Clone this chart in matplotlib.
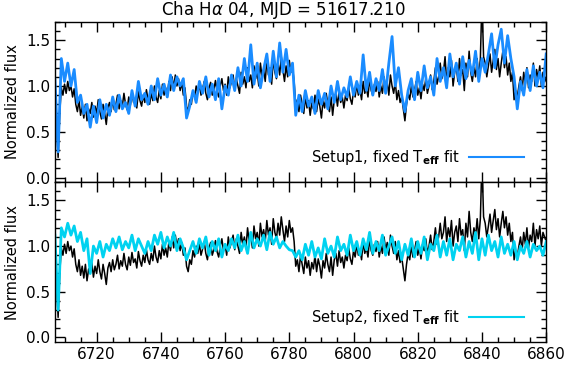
import numpy as np
import matplotlib
matplotlib.use("Agg")
import matplotlib.pyplot as plt
from matplotlib.ticker import MultipleLocator

plt.rcParams['font.family'] = ['DejaVu Sans']

# observed spectrum, 0.5 A sampling from 6707.0 to 6860.0
wave_obs = np.arange(6707.0, 6860.01, 0.5)
flux_obs = [
    1.00, 0.62, 0.22, 0.70, 0.98, 0.90, 1.02, 0.92, 1.05, 0.95,
    1.00, 0.88, 0.97, 0.80, 0.72, 0.85, 0.68, 0.78, 0.65, 0.80,
    0.62, 0.75, 0.70, 0.82, 0.66, 0.78, 0.70, 0.85, 0.72, 0.64,
    0.80, 0.70, 0.58, 0.76, 0.82, 0.72, 0.85, 0.74, 0.80, 0.90,
    0.75, 0.84, 0.78, 0.92, 0.80, 0.74, 0.88, 0.79, 0.93, 0.82,
    0.86, 0.76, 0.94, 0.84, 0.78, 0.90, 0.82, 0.96, 0.85, 0.80,
    0.92, 0.84, 1.00, 0.88, 0.82, 0.95, 0.86, 1.02, 0.90, 0.98,
    0.88, 1.05, 0.95, 1.10, 0.98, 1.12, 1.00, 1.08, 0.95, 1.04,
    0.90, 0.98, 0.78, 0.72, 0.85, 0.80, 0.95, 0.88, 1.00, 0.92,
    1.02, 0.90, 0.97, 1.05, 0.92, 0.85, 0.98, 1.04, 0.90, 0.96,
    1.06, 0.94, 0.88, 1.00, 1.08, 0.95, 1.02, 0.90, 1.10, 0.98,
    1.05, 1.12, 0.96, 1.08, 1.00, 0.92, 1.15, 1.02, 1.10, 0.98,
    1.20, 1.05, 1.12, 0.98, 1.22, 1.08, 1.15, 1.00, 1.25, 1.10,
    1.18, 1.05, 1.28, 1.12, 1.20, 1.02, 1.30, 1.15, 1.08, 1.25,
    1.12, 1.32, 1.18, 1.05, 1.22, 1.10, 1.28, 1.15, 1.20, 1.05,
    0.78, 0.85, 0.72, 0.90, 0.80, 0.70, 0.88, 0.76, 0.84, 0.68,
    0.82, 0.75, 0.90, 0.72, 0.86, 0.78, 0.65, 0.84, 0.76, 0.92,
    0.80, 0.72, 0.88, 0.68, 0.85, 0.92, 0.78, 0.95, 0.82, 0.88,
    0.76, 0.90, 0.84, 0.98, 0.86, 0.80, 0.95, 0.88, 1.02, 0.90,
    0.96, 0.85, 1.05, 0.92, 0.98, 0.88, 1.08, 0.95, 0.90, 1.02,
    0.94, 1.05, 0.88, 1.00, 0.92, 1.10, 0.96, 1.04, 0.90, 1.12,
    1.00, 0.92, 1.05, 0.85, 0.95, 0.82, 0.88, 0.75, 0.62, 0.80,
    0.92, 0.85, 1.00, 0.88, 0.95, 1.05, 0.90, 0.98, 0.86, 1.02,
    0.95, 1.08, 0.92, 1.00, 1.12, 0.96, 1.05, 1.20, 1.02, 1.10,
    1.25, 1.08, 1.15, 1.32, 1.05, 1.20, 1.10, 1.28, 1.00, 1.15,
    1.22, 1.05, 1.30, 1.12, 1.18, 0.95, 1.25, 1.10, 1.38, 1.15,
    1.05, 1.20, 1.10, 1.30, 1.08, 1.30, 1.95, 1.32, 1.25, 1.10,
    1.22, 1.35, 1.15, 1.28, 1.40, 1.18, 1.30, 1.10, 1.25, 1.38,
    1.20, 1.32, 1.12, 1.25, 1.05, 1.15, 0.85, 0.95, 0.88, 1.00,
    1.10, 0.95, 1.15, 1.02, 1.20, 0.98, 1.12, 1.05, 1.25, 1.00,
    1.18, 1.08, 1.22, 1.00, 1.15, 1.10, 1.05,
]

# model fits, 1 A sampling from 6707 to 6860
wave_fit = np.arange(6707, 6861, 1)
fit_setup1 = [
    1.08, 0.28, 1.30, 1.05, 1.25, 1.00, 1.18, 0.82, 0.90, 0.70,
    0.80, 0.55, 0.78, 0.60, 0.85, 0.65, 0.80, 0.68, 0.88, 0.72,
    0.90, 0.75, 0.82, 0.70, 0.95, 0.78, 1.05, 0.85, 0.92, 0.80,
    1.00, 0.85, 1.08, 0.90, 1.02, 0.88, 1.12, 0.95, 1.10, 1.00,
    1.08, 0.65, 0.78, 0.95, 0.82, 1.05, 0.92, 1.10, 0.88, 1.02,
    0.85, 1.08, 0.75, 1.00, 0.90, 1.12, 0.95, 1.20, 1.00, 1.30,
    1.05, 1.45, 1.02, 1.25, 0.98, 1.18, 1.35, 1.05, 1.38, 1.10,
    1.47, 1.15, 1.40, 1.12, 1.25, 0.68, 0.90, 0.72, 0.95, 0.78,
    0.88, 0.70, 0.95, 0.80, 0.92, 0.75, 1.00, 0.82, 1.05, 0.85,
    0.98, 0.88, 1.10, 0.90, 1.05, 0.92, 1.34, 0.95, 1.15, 0.90,
    1.08, 0.95, 1.18, 0.92, 1.25, 1.54, 1.00, 1.20, 0.90, 0.72,
    0.95, 1.08, 0.85, 1.15, 0.95, 1.22, 0.98, 1.10, 0.90, 1.30,
    1.05, 1.20, 0.98, 1.35, 1.10, 1.25, 1.02, 1.32, 1.08, 1.28,
    1.12, 1.38, 1.05, 1.30, 1.15, 1.35, 1.57, 1.20, 1.45, 1.62,
    1.25, 1.55, 1.30, 1.10, 0.75, 1.05, 0.90, 1.18, 0.95, 1.22,
    1.00, 1.15, 0.98, 1.35,
]
fit_setup2 = [
    1.12, 0.30, 1.20, 1.10, 1.25, 1.12, 1.22, 1.05, 1.15, 0.95,
    1.08, 0.70, 1.00, 0.92, 1.05, 0.88, 1.02, 0.95, 1.08, 0.98,
    1.10, 0.96, 1.05, 0.98, 1.12, 0.95, 1.08, 1.00, 0.92, 1.05,
    0.95, 1.12, 1.02, 1.15, 0.98, 1.10, 1.00, 1.15, 0.95, 1.08,
    0.98, 0.85, 0.95, 1.05, 0.92, 1.08, 0.98, 1.10, 0.90, 1.05,
    0.95, 1.08, 0.88, 1.02, 0.95, 1.08, 0.98, 1.12, 0.95, 1.05,
    0.92, 1.15, 0.98, 1.08, 1.00, 1.12, 0.96, 1.15, 1.02, 1.10,
    0.98, 1.05, 1.00, 0.96, 0.95, 0.88, 0.95, 0.85, 1.02, 0.90,
    1.05, 0.88, 0.98, 0.86, 1.08, 0.92, 1.00, 0.88, 1.10, 0.95,
    1.02, 0.90, 1.12, 0.95, 1.05, 0.90, 1.08, 0.96, 1.15, 0.92,
    1.05, 0.95, 1.12, 0.90, 1.00, 1.10, 0.92, 1.05, 0.85, 1.02,
    0.90, 1.08, 0.88, 1.05, 0.92, 1.10, 0.85, 1.02, 0.95, 1.12,
    0.88, 1.05, 0.90, 1.08, 0.85, 1.02, 0.95, 1.10, 0.88, 1.05,
    0.92, 1.15, 0.85, 1.08, 0.90, 1.12, 0.95, 1.05, 0.88, 1.10,
    0.92, 1.02, 0.90, 1.05, 0.85, 1.00, 0.92, 1.05, 0.88, 1.02,
    0.95, 1.00, 0.90, 1.05,
]

fits = [fit_setup1, fit_setup2]
fit_colors = ['#1a8cff', '#00d2f0']
fit_labels = [r'Setup1, fixed T$_{\mathbf{eff}}$ fit',
              r'Setup2, fixed T$_{\mathbf{eff}}$ fit']

fig = plt.figure(figsize=(5.66, 3.65), dpi=100)
ax1 = fig.add_axes([0.097, 0.501, 0.868, 0.439])
ax2 = fig.add_axes([0.097, 0.063, 0.868, 0.438])

for ax, fit, col, lab in zip([ax1, ax2], fits, fit_colors, fit_labels):
    ax.plot(wave_obs, flux_obs, color='black', lw=1.1)
    ax.plot(wave_fit, fit, color=col, lw=2.0)
    ax.set_xlim(6707, 6860)
    ax.set_ylim(-0.05, 1.7)
    ax.xaxis.set_major_locator(MultipleLocator(20))
    ax.xaxis.set_minor_locator(MultipleLocator(5))
    ax.yaxis.set_major_locator(MultipleLocator(0.5))
    ax.yaxis.set_minor_locator(MultipleLocator(0.1))
    ax.yaxis.set_major_formatter(plt.FuncFormatter(lambda v, p: f"{v:.1f}"))
    ax.tick_params(which='both', direction='in', top=True, right=True,
                   labelsize=11, width=1)
    ax.tick_params(which='major', length=7)
    ax.tick_params(which='minor', length=3.5)
    ax.set_ylabel('Normalized flux', fontsize=10.5, labelpad=4)
    for s in ax.spines.values():
        s.set_linewidth(1)
    # legend: text with a line sample
    ax.text(0.823, 0.156, lab, transform=ax.transAxes, ha='right',
            va='center', fontsize=10.5)
    ax.plot([0.843, 0.955], [0.156, 0.156], transform=ax.transAxes,
            color=col, lw=1.5)

ax1.tick_params(labelbottom=False)
# title is centred on the figure, not the axes
fig.text(0.5, 0.972, r'Cha H$\alpha$ 04, MJD = 51617.210', fontsize=12,
         ha='center', va='center')

fig.savefig('out.png', dpi=100)
